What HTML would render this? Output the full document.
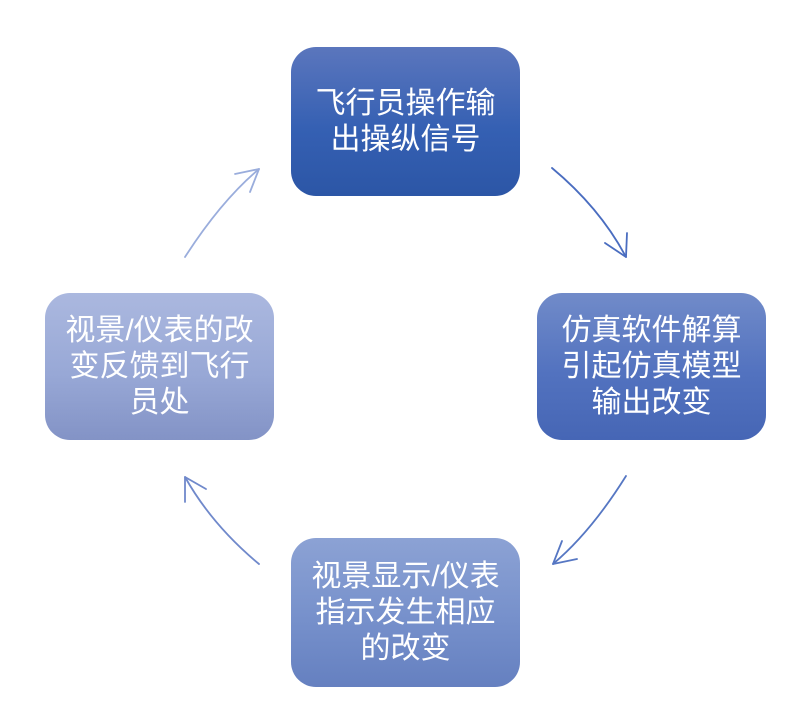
<!DOCTYPE html>
<html>
<head>
<meta charset="utf-8">
<style>
  html, body { margin:0; padding:0; background:#ffffff; }
  body { width:809px; height:725px; position:relative; overflow:hidden; }
  .box {
    position:absolute;
    width:229px; height:149px;
    border-radius:25px;
    display:flex; align-items:center; justify-content:center;
    text-align:center;
    color:#ffffff;
    font-family:"Liberation Sans","Noto Sans CJK SC",sans-serif;
    font-size:30px;
    line-height:36px;
    box-sizing:border-box;
    padding:0 10px;
  }
  #b1 { left:291px; top:47px; background:linear-gradient(#5b76bd, #3560b3 55%, #2c56a6); }
  #b2 { left:537px; top:293px; height:147px; background:linear-gradient(#718bc9, #5272bf 55%, #4666b5); }
  #b3 { left:291px; top:538px; background:linear-gradient(#8ca2d4, #7690cb 55%, #6580c0); }
  #b4 { left:45px; top:293px; height:147px; background:linear-gradient(#abb8df, #98a8d6 55%, #8393c6); }
  svg { position:absolute; left:0; top:0; }
</style>
</head>
<body>
<svg width="809" height="725" viewBox="0 0 809 725">
  <g fill="none" stroke-width="1.8" stroke-linecap="round" stroke-linejoin="round">
    <path d="M552,168 Q600,208 626,257" stroke="#4a6dc0"/>
    <path d="M605,243 L626,257 L627,233" stroke="#4a6dc0"/>
    <path d="M626,476 Q591,532 553,564" stroke="#5677c3"/>
    <path d="M562,541 L553,564 L577,559" stroke="#5677c3"/>
    <path d="M259,564 Q212,525 185,477" stroke="#7089cb"/>
    <path d="M185,502 L185,477 L206,489" stroke="#7089cb"/>
    <path d="M185,257 Q221,201 259,169" stroke="#9aaddc"/>
    <path d="M235,174 L259,169 L250,192" stroke="#9aaddc"/>
  </g>
</svg>
<div class="box" id="b1">飞行员操作输<br>出操纵信号</div>
<div class="box" id="b2">仿真软件解算<br>引起仿真模型<br>输出改变</div>
<div class="box" id="b3">视景显示/仪表<br>指示发生相应<br>的改变</div>
<div class="box" id="b4">视景/仪表的改<br>变反馈到飞行<br>员处</div>
</body>
</html>
